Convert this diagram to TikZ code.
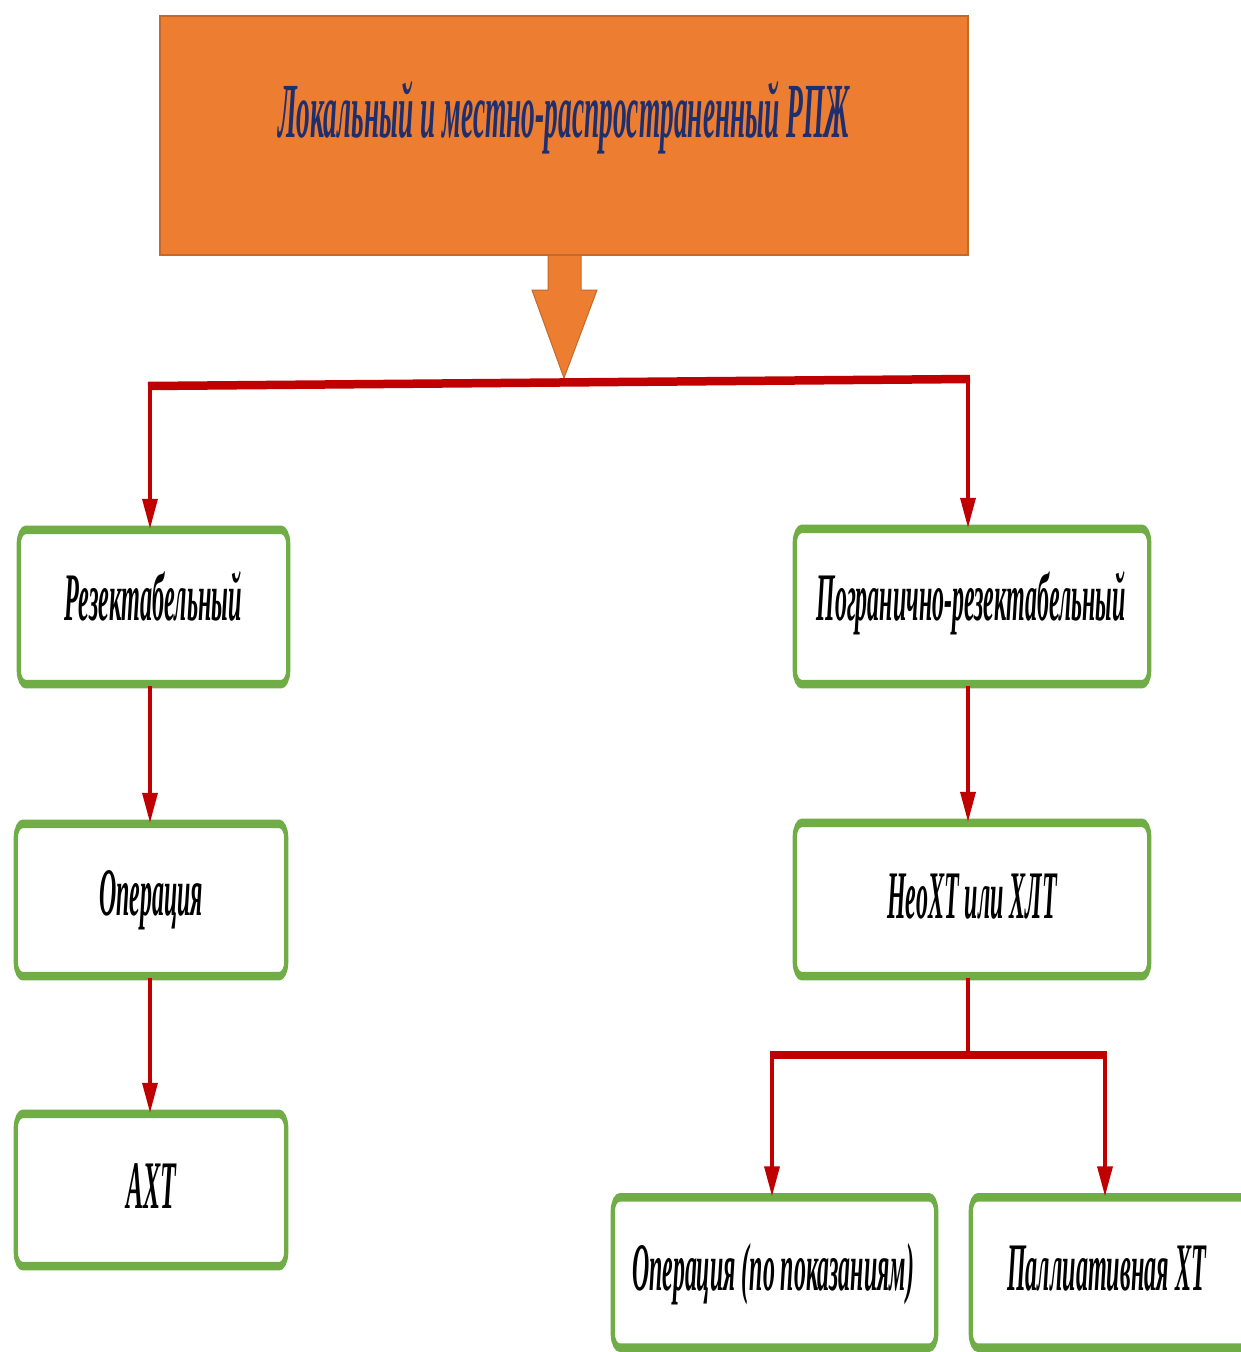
\documentclass[tikz,border=0pt]{standalone}
\usepackage{fontspec}
\setmainfont{Liberation Serif}
\usepackage{graphicx}
\usetikzlibrary{arrows.meta,calc}
\definecolor{orangeF}{HTML}{ED7D31}
\definecolor{orangeD}{HTML}{C5682B}
\definecolor{redL}{HTML}{C00000}
\definecolor{greenB}{HTML}{70AD47}
\definecolor{navyT}{HTML}{1F2F6E}
\newcommand{\fitw}[2]{\resizebox{#1}{\height}{#2}}
\begin{document}
\begin{tikzpicture}[x=1pt,y=-1pt,
  gbox/.style={draw=none, inner sep=0pt},
  arr/.style={draw=redL, line width=3.5pt, -{Triangle[length=30pt,width=15pt]}, shorten <=2pt, shorten >=1pt},
  bus/.style={draw=redL, line width=8.5pt},
  trunk/.style={draw=redL, line width=3.5pt, shorten <=2pt},
  lbl/.style={anchor=base, inner sep=0pt, font=\fontsize{68pt}{80pt}\selectfont\bfseries\itshape, text=black},
  ttl/.style={anchor=base, inner sep=0pt, font=\fontsize{78pt}{90pt}\selectfont\bfseries\itshape, text=navyT}
]
\useasboundingbox (0,0) rectangle (1240,1352);
\fill[white] (0,0) rectangle (1240,1352);

% orange block arrow
\filldraw[fill=orangeF, draw=orangeD, line width=1pt]
  (548,255) -- (548,290) -- (532,290) -- (564,378) -- (597,290) -- (581,290) -- (581,255);

% title box
\node[draw=orangeD, fill=orangeF, line width=1.2pt, minimum width=808pt, minimum height=239pt, inner sep=0pt] (top) at (564,135.5) {};
\node[ttl] (title) at (564,137) {\fitw{572pt}{Локальный и местно-распространенный РПЖ}};

% green boxes (positions)
\node[gbox, minimum width=269pt, minimum height=154pt] (l1) at (153.5,607) {};
\node[gbox, minimum width=270pt, minimum height=152pt] (l2) at (151,900) {};
\node[gbox, minimum width=270pt, minimum height=152pt] (l3) at (151,1190) {};
\node[gbox, minimum width=354pt, minimum height=155pt] (r1) at (972,606.5) {};
\node[gbox, minimum width=354pt, minimum height=153pt] (r2) at (972,899.5) {};
\node[gbox, minimum width=323pt, minimum height=150pt] (r3) at (774.5,1272.5) {};
\node[gbox, minimum width=280pt, minimum height=150pt] (r4) at (1111,1272.5) {};

% borders: drawn horizontally squeezed so the top/bottom edges are thicker than the sides
\begin{scope}[transform canvas={xscale=0.5}]
\foreach \bx in {l1,l2,l3,r1,r2,r3,r4}{
  \path let \p1=(\bx.north west), \p2=(\bx.south east) in
    [draw=greenB, fill=white, line width=8.5pt, rounded corners=14pt]
    (2*\x1,\y1) rectangle (2*\x2,\y2);
}
\end{scope}

% labels
\node[lbl] (t1) at (153.5,620) {\fitw{177pt}{Резектабельный}};
\node[lbl] (t2) at (151,915) {\fitw{104pt}{Операция}};
\node[lbl] (t3) at (151.5,1208) {\fitw{50pt}{АХТ}};
\node[lbl] (t4) at (971,620) {\fitw{309pt}{Погранично-резектабельный}};
\node[lbl] (t5) at (972,918) {\fitw{170pt}{НеоХТ или ХЛТ}};
\node[lbl] (t6) at (773,1290) {\fitw{282pt}{Операция (по показаниям)}};
\node[lbl] (t7) at (1106.5,1290) {\fitw{199pt}{Паллиативная ХТ}};

% top bus
\coordinate (bl) at (150,386);
\coordinate (br) at (968,379);
\draw[bus] ([xshift=-2pt]bl) -- ([xshift=2pt]br);
\draw[arr, shorten <=0pt] (bl) -- (bl |- l1.north);
\draw[arr, shorten <=0pt] (br) -- (br |- r1.north);

% left chain
\draw[arr] (l1.south -| bl) -- (l2.north -| bl);
\draw[arr] (l2.south -| bl) -- (l3.north -| bl);

% right chain
\draw[arr] (r1.south -| br) -- (r2.north -| br);
\coordinate (j) at (968,1055);
\coordinate (jl) at (772,1055);
\coordinate (jr) at (1105,1055);
\draw[trunk] (r2.south -| br) -- (j);
\draw[bus] ([xshift=-2pt]jl) -- ([xshift=2pt]jr);
\draw[arr, shorten <=0pt] (jl) -- (jl |- r3.north);
\draw[arr, shorten <=0pt] (jr) -- (jr |- r4.north);
\end{tikzpicture}
\end{document}
